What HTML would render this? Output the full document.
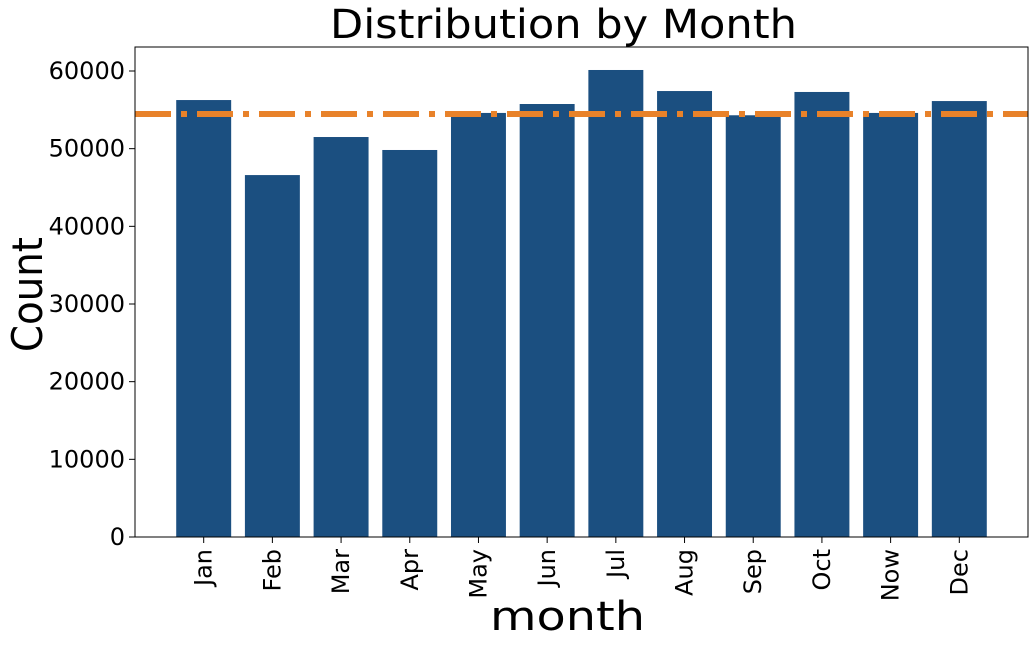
<!DOCTYPE html>
<html><head><meta charset="utf-8"><style>body{margin:0;background:#fff}svg{display:block;font-family:"DejaVu Sans","Liberation Sans",sans-serif}</style></head>
<body>
<svg id="chart" width="1034" height="647"></svg>
<script>
const categories=["Jan","Feb","Mar","Apr","May","Jun","Jul","Aug","Sep","Oct","Now","Dec"];
const counts=[56260,46600,51500,49830,54600,55750,60130,57420,54300,57300,54600,56130];
const meanValue=54460;
const yTicks=[0,10000,20000,30000,40000,50000,60000];
const NS="http://www.w3.org/2000/svg";
const svg=document.getElementById('chart');
const L=135,R=1028,T=47,B=537;
const x=i=>L+(i+1)*(R-L)/13;
const y=v=>B-v*(B-T)/63090;
const bw=0.8*(R-L)/13;
function el(t,a,txt){const e=document.createElementNS(NS,t);for(const k in a)e.setAttribute(k,a[k]);if(txt!==undefined)e.textContent=txt;svg.appendChild(e);return e;}
categories.forEach((c,i)=>{
 const r=el('rect',{x:x(i)-bw/2,y:y(counts[i]),width:bw,height:B-y(counts[i]),fill:'#1b4f80'});
 
 
 el('line',{x1:x(i),x2:x(i),y1:B,y2:B+6,stroke:'#000','stroke-width':1});
 const t=el('text',{transform:`translate(${x(i)+8},${B+12}) rotate(-90)`,'text-anchor':'end','font-size':24},c);
 
 
});
const m=el('line',{x1:L,x2:R,y1:y(meanValue),y2:y(meanValue),stroke:'#e8822a','stroke-width':6,'stroke-dasharray':'36 10 6 10'});


yTicks.forEach(v=>{
 el('line',{x1:L-6,x2:L,y1:y(v),y2:y(v),stroke:'#000','stroke-width':1});
 const t=el('text',{x:L-10,y:y(v)+8,'text-anchor':'end','font-size':24},String(v));
 
 
});
const f=el('rect',{x:L,y:T,width:R-L,height:B-T,fill:'none',stroke:'#000','stroke-width':1});


const ti=el('text',{x:330,y:38,'font-size':40,textLength:467,lengthAdjust:'spacingAndGlyphs'},'Distribution by Month');


const xl=el('text',{x:490,y:630,'font-size':40,textLength:155,lengthAdjust:'spacingAndGlyphs'},'month');


const yl=el('text',{transform:'translate(42,352) rotate(-90)','font-size':42,textLength:115,lengthAdjust:'spacingAndGlyphs'},'Count');


</script>
</body></html>
